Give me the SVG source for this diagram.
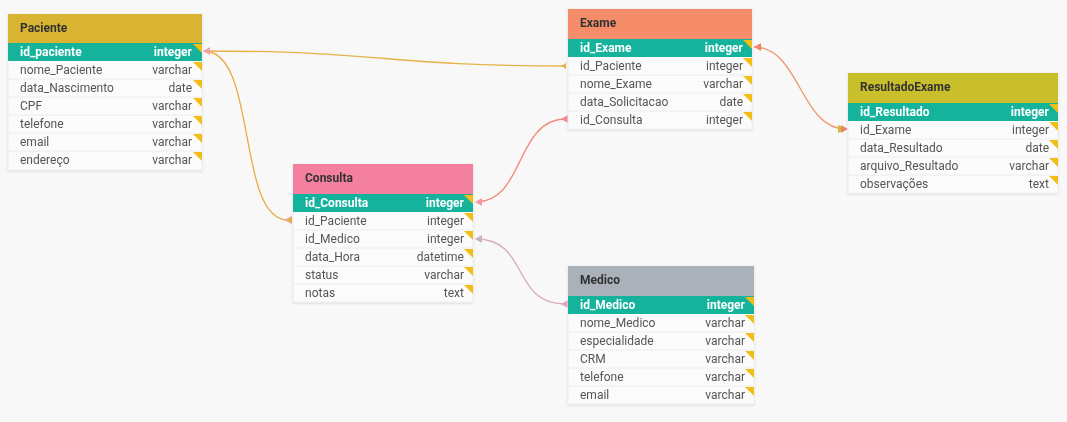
<svg xmlns="http://www.w3.org/2000/svg" width="1067" height="422" viewBox="0 0 1067 422">
<defs>
<filter id="sh" x="-5%" y="-5%" width="110%" height="115%"><feDropShadow dx="0" dy="1" stdDeviation="1" flood-color="#000" flood-opacity="0.12"/></filter>
</defs>
<style>
.bg{fill:#f8f8f8}
.body{fill:#fbfbfb;stroke:#eeeeee;stroke-width:1}
.t{font-family:Roboto,"Liberation Sans",sans-serif;font-size:12px;font-weight:bold;fill:#333}
.f{font-family:Roboto,"Liberation Sans",sans-serif;font-size:12px;fill:#555}
.k{font-family:Roboto,"Liberation Sans",sans-serif;font-size:12px;font-weight:bold;fill:#fff}
.e{text-anchor:end}
.pk{fill:#12b39c}
.sep{stroke:#ececec;stroke-width:1}
.tri{fill:#f2bd12}
.c{fill:none;stroke-width:1.3}
</style>
<rect class="bg" width="1067" height="422"/>

<g id="connectors">
<path class="c" stroke="#e8b24a" d="M204,51 C385,51 385,66 566,66"/>
<path class="c" stroke="#e8ac45" d="M204,51 C258,51 236,220 288,220"/>
<path class="c" stroke="#f38c78" d="M476,202 C525,202 515,119 566,119"/>
<path class="c" stroke="#d6a9c0" d="M476,239 C530,239 510,304 566,304"/>
<path class="c" stroke="#f0956a" d="M754,47 C800,47 800,129 846,129"/>
<polygon points="203,51 210,47 210,55" fill="#f2a0b0"/>
<polygon points="561,66 566,63 566,69" fill="#e8b24a"/>
<polygon points="284,220 292,216 292,224" fill="#f2a0b0"/>
<polygon points="287,220 292,217 292,223" fill="#d9b430"/>
<polygon points="475,202 482,198 482,206" fill="#f59aa8"/>
<polygon points="561,119 568,115 568,123" fill="#f38c90"/>
<polygon points="475,239 482,235 482,243" fill="#c8b0c8"/>
<polygon points="561,304 568,300 568,308" fill="#e8a0c0"/>
<polygon points="754,47 761,43 761,51" fill="#f0856a"/>
<polygon points="838,125 838,133 846,129" fill="#c9bf2a"/>
<polygon points="841,125 841,133 848,129" fill="#f0856a"/>
</g>

<g id="Paciente" filter="url(#sh)">
<rect class="body" x="8" y="14" width="194" height="156"/>
<rect x="8" y="14" width="194" height="29" fill="#d9b430"/>
<text class="t" x="20" y="32">Paciente</text>
<rect class="pk" x="8" y="43" width="194" height="18"/>
<text class="k" x="20" y="56">id_paciente</text><text class="k e" x="192" y="56">integer</text>
<line class="sep" x1="8" y1="79" x2="202" y2="79"/><line class="sep" x1="8" y1="97" x2="202" y2="97"/><line class="sep" x1="8" y1="115" x2="202" y2="115"/><line class="sep" x1="8" y1="133" x2="202" y2="133"/><line class="sep" x1="8" y1="151" x2="202" y2="151"/>
<text class="f" x="20" y="74">nome_Paciente</text><text class="f e" x="192" y="74">varchar</text>
<text class="f" x="20" y="92">data_Nascimento</text><text class="f e" x="192" y="92">date</text>
<text class="f" x="20" y="110">CPF</text><text class="f e" x="192" y="110">varchar</text>
<text class="f" x="20" y="128">telefone</text><text class="f e" x="192" y="128">varchar</text>
<text class="f" x="20" y="146">email</text><text class="f e" x="192" y="146">varchar</text>
<text class="f" x="20" y="164">endereço</text><text class="f e" x="192" y="164">varchar</text>
<polygon class="tri" points="193,44 202,44 202,53"/><polygon class="tri" points="193,62 202,62 202,71"/><polygon class="tri" points="193,80 202,80 202,89"/><polygon class="tri" points="193,98 202,98 202,107"/><polygon class="tri" points="193,116 202,116 202,125"/><polygon class="tri" points="193,134 202,134 202,143"/><polygon class="tri" points="193,152 202,152 202,161"/>
</g>

<g id="Exame" filter="url(#sh)">
<rect class="body" x="568" y="9" width="184" height="120"/>
<rect x="568" y="9" width="184" height="30" fill="#f58c6a"/>
<text class="t" x="580" y="27">Exame</text>
<rect class="pk" x="568" y="39" width="184" height="18"/>
<text class="k" x="580" y="52">id_Exame</text><text class="k e" x="743" y="52">integer</text>
<line class="sep" x1="568" y1="75" x2="752" y2="75"/><line class="sep" x1="568" y1="93" x2="752" y2="93"/><line class="sep" x1="568" y1="111" x2="752" y2="111"/>
<text class="f" x="580" y="70">id_Paciente</text><text class="f e" x="743" y="70">integer</text>
<text class="f" x="580" y="88">nome_Exame</text><text class="f e" x="743" y="88">varchar</text>
<text class="f" x="580" y="106">data_Solicitacao</text><text class="f e" x="743" y="106">date</text>
<text class="f" x="580" y="124">id_Consulta</text><text class="f e" x="743" y="124">integer</text>
<polygon class="tri" points="743,40 752,40 752,49"/><polygon class="tri" points="743,58 752,58 752,67"/><polygon class="tri" points="743,76 752,76 752,85"/><polygon class="tri" points="743,94 752,94 752,103"/><polygon class="tri" points="743,112 752,112 752,121"/>
</g>

<g id="ResultadoExame" filter="url(#sh)">
<rect class="body" x="848" y="73" width="210" height="120"/>
<rect x="848" y="73" width="210" height="30" fill="#c9bf2a"/>
<text class="t" x="860" y="91">ResultadoExame</text>
<rect class="pk" x="848" y="103" width="210" height="18"/>
<text class="k" x="860" y="116">id_Resultado</text><text class="k e" x="1049" y="116">integer</text>
<line class="sep" x1="848" y1="139" x2="1058" y2="139"/><line class="sep" x1="848" y1="157" x2="1058" y2="157"/><line class="sep" x1="848" y1="175" x2="1058" y2="175"/>
<text class="f" x="860" y="134">id_Exame</text><text class="f e" x="1049" y="134">integer</text>
<text class="f" x="860" y="152">data_Resultado</text><text class="f e" x="1049" y="152">date</text>
<text class="f" x="860" y="170">arquivo_Resultado</text><text class="f e" x="1049" y="170">varchar</text>
<text class="f" x="860" y="188">observações</text><text class="f e" x="1049" y="188">text</text>
<polygon class="tri" points="1049,104 1058,104 1058,113"/><polygon class="tri" points="1049,122 1058,122 1058,131"/><polygon class="tri" points="1049,140 1058,140 1058,149"/><polygon class="tri" points="1049,158 1058,158 1058,167"/><polygon class="tri" points="1049,176 1058,176 1058,185"/>
</g>

<g id="Consulta" filter="url(#sh)">
<rect class="body" x="293" y="164" width="180" height="138"/>
<rect x="293" y="164" width="180" height="30" fill="#f480a0"/>
<text class="t" x="305" y="182">Consulta</text>
<rect class="pk" x="293" y="194" width="180" height="18"/>
<text class="k" x="305" y="207">id_Consulta</text><text class="k e" x="464" y="207">integer</text>
<line class="sep" x1="293" y1="230" x2="473" y2="230"/><line class="sep" x1="293" y1="248" x2="473" y2="248"/><line class="sep" x1="293" y1="266" x2="473" y2="266"/><line class="sep" x1="293" y1="284" x2="473" y2="284"/>
<text class="f" x="305" y="225">id_Paciente</text><text class="f e" x="464" y="225">integer</text>
<text class="f" x="305" y="243">id_Medico</text><text class="f e" x="464" y="243">integer</text>
<text class="f" x="305" y="261">data_Hora</text><text class="f e" x="464" y="261">datetime</text>
<text class="f" x="305" y="279">status</text><text class="f e" x="464" y="279">varchar</text>
<text class="f" x="305" y="297">notas</text><text class="f e" x="464" y="297">text</text>
<polygon class="tri" points="464,195 473,195 473,204"/><polygon class="tri" points="464,213 473,213 473,222"/><polygon class="tri" points="464,231 473,231 473,240"/><polygon class="tri" points="464,249 473,249 473,258"/><polygon class="tri" points="464,267 473,267 473,276"/><polygon class="tri" points="464,285 473,285 473,294"/>
</g>

<g id="Medico" filter="url(#sh)">
<rect class="body" x="568" y="266" width="186" height="138"/>
<rect x="568" y="266" width="186" height="30" fill="#aab1b8"/>
<text class="t" x="580" y="284">Medico</text>
<rect class="pk" x="568" y="296" width="186" height="18"/>
<text class="k" x="580" y="309">id_Medico</text><text class="k e" x="745" y="309">integer</text>
<line class="sep" x1="568" y1="332" x2="754" y2="332"/><line class="sep" x1="568" y1="350" x2="754" y2="350"/><line class="sep" x1="568" y1="368" x2="754" y2="368"/><line class="sep" x1="568" y1="386" x2="754" y2="386"/>
<text class="f" x="580" y="327">nome_Medico</text><text class="f e" x="745" y="327">varchar</text>
<text class="f" x="580" y="345">especialidade</text><text class="f e" x="745" y="345">varchar</text>
<text class="f" x="580" y="363">CRM</text><text class="f e" x="745" y="363">varchar</text>
<text class="f" x="580" y="381">telefone</text><text class="f e" x="745" y="381">varchar</text>
<text class="f" x="580" y="399">email</text><text class="f e" x="745" y="399">varchar</text>
<polygon class="tri" points="745,297 754,297 754,306"/><polygon class="tri" points="745,315 754,315 754,324"/><polygon class="tri" points="745,333 754,333 754,342"/><polygon class="tri" points="745,351 754,351 754,360"/><polygon class="tri" points="745,369 754,369 754,378"/><polygon class="tri" points="745,387 754,387 754,396"/>
</g>
</svg>
